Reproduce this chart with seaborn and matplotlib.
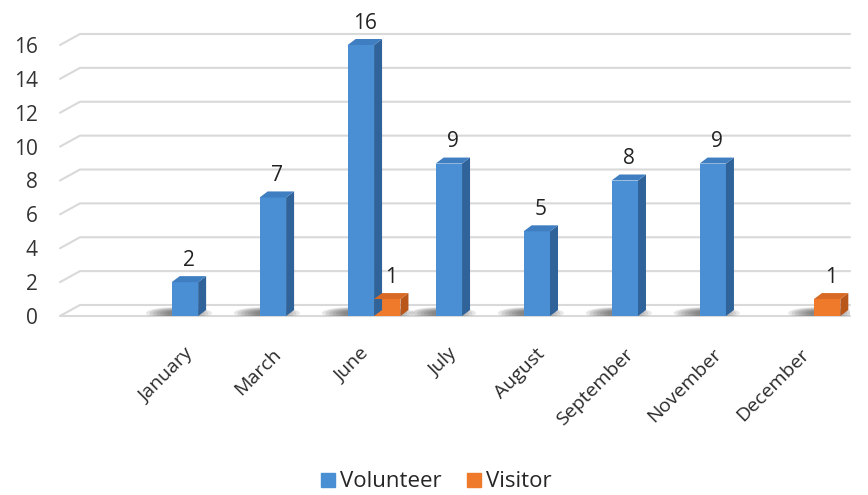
import matplotlib
matplotlib.use("Agg")
import matplotlib.pyplot as plt
import matplotlib.transforms as mtransforms
import seaborn as sns
import pandas as pd
import numpy as np
from matplotlib.patches import Polygon, Ellipse
from matplotlib.lines import Line2D

months = ["January", "March", "June", "July", "August", "September", "November", "December"]
volunteer = [2, 7, 16, 9, 5, 8, 9, 0]
visitor = [0, 0, 1, 0, 0, 0, 0, 1]
series_names = ["Volunteer", "Visitor"]
yticks = [0, 2, 4, 6, 8, 10, 12, 14, 16]

front_colors = ["#4a8ed4", "#f07a2c"]
side_colors = ["#2f6399", "#b9561a"]
top_colors = ["#3f7ec0", "#d96a26"]

df = pd.DataFrame({
    "month": months * 2,
    "series": [series_names[0]] * len(months) + [series_names[1]] * len(months),
    "value": volunteer + visitor,
})

sns.set_theme(style="white")
plt.rcParams["font.family"] = ["Open Sans", "DejaVu Sans"]

W, H, DPI = 868, 495, 100
fig = plt.figure(figsize=(W / DPI, H / DPI), dpi=DPI)
ax_l, ax_r, ax_b, ax_t = 60, 850, 316, 20
ax = fig.add_axes([ax_l / W, 1 - ax_b / H, (ax_r - ax_l) / W, (ax_b - ax_t) / H])

sns.barplot(data=df, x="month", y="value", hue="series", order=months,
            hue_order=series_names, palette=front_colors, width=0.6,
            saturation=1, legend=False, ax=ax, zorder=3, linewidth=0)

xlim = (-1.57, 7.41)
ylim = (0, (ax_b - ax_t) / (271 / 16))
ax.set_xlim(*xlim)
ax.set_ylim(*ylim)

px_x = (xlim[1] - xlim[0]) / (ax_r - ax_l)
px_y = (ylim[1] - ylim[0]) / (ax_b - ax_t)

# gridlines with perspective
gdx, gdy = 20 * px_x, 11 * px_y
for v in yticks:
    ax.plot([xlim[0], xlim[0] + gdx, xlim[1]], [v, v + gdy, v + gdy],
            color="#d9d9d9", lw=1.5, zorder=1, clip_on=False)
ax.plot([xlim[0], xlim[1]], [0, 0], color="#d9d9d9", lw=1.5, zorder=1, clip_on=False)

# 3D faces, shadows and labels
bdx, bdy = 8 * px_x, 6 * px_y
for k, cont in enumerate(ax.containers):
    for bar in cont:
        h = bar.get_height()
        if h <= 0:
            bar.set_visible(False)
            continue
        x0 = bar.get_x()
        x1 = x0 + bar.get_width()
        cx = (x0 + x1) / 2
        for s in range(7):
            ax.add_patch(Ellipse((cx - 6 * px_x, 3 * px_y),
                                 (66 - 7 * s) * px_x, (12 - 1.2 * s) * px_y,
                                 color="#3a3a3a", alpha=0.12, lw=0, zorder=2))
        ax.add_patch(Polygon([(x1, 0), (x1, h), (x1 + bdx, h + bdy), (x1 + bdx, bdy)],
                             closed=True, color=side_colors[k], lw=0, zorder=3))
        ax.add_patch(Polygon([(x0, h), (x1, h), (x1 + bdx, h + bdy), (x0 + bdx, h + bdy)],
                             closed=True, color=top_colors[k], lw=0, zorder=3))
        ax.annotate(f"{h:g}", (cx, h), xytext=(3, 8), textcoords="offset points",
                    ha="center", va="bottom", fontsize=15, color="#222222")

for sp in ax.spines.values():
    sp.set_visible(False)
ax.set_yticks(yticks)
ax.set_yticklabels([str(v) for v in yticks], fontsize=15, color="#333333")
ax.tick_params(axis="y", length=0, pad=16)
ax.tick_params(axis="x", length=0, pad=10)
ax.set_xticks(range(len(months)))
ax.set_xticklabels(months, rotation=45, ha="right", rotation_mode="anchor",
                   fontsize=14, color="#2a2a2a")
shift = mtransforms.ScaledTranslation(-14 / DPI, -15 / DPI, fig.dpi_scale_trans)
for lab in ax.get_xticklabels():
    lab.set_transform(lab.get_transform() + shift)
ax.set_xlabel("")
ax.set_ylabel("")
ax.grid(False)

handles = [Line2D([0], [0], marker="s", ls="", markersize=10, color=c) for c in front_colors]
fig.legend(handles, series_names, loc="lower center", bbox_to_anchor=(0.5, -0.035),
           ncol=2, frameon=False, fontsize=16, handletextpad=0.0, columnspacing=0.9,
           handlelength=1.1)

fig.savefig("out.png", dpi=DPI)
